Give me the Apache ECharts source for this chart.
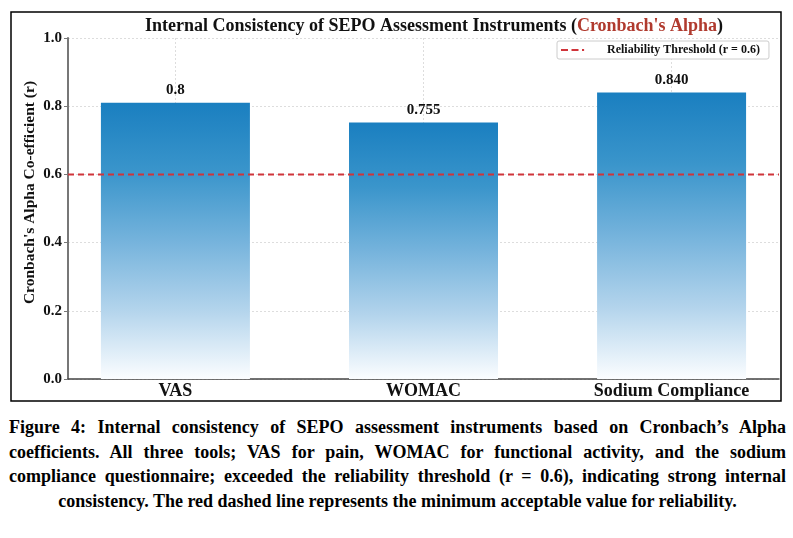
<!DOCTYPE html>
<html>
<head>
<meta charset="utf-8">
<script src="https://cdn.jsdelivr.net/npm/echarts@6/dist/echarts.min.js"></script>
<style>
    html, body { margin: 0; padding: 0; background: #fff; }
    #chart { position: absolute; left: 0; top: 0; width: 793px; height: 410px; }
    #caption {
        position: absolute; left: 9px; top: 415px; width: 777px;
        font-family: "Liberation Serif", "DejaVu Serif", serif;
        font-weight: bold; font-size: 18px; line-height: 24.5px;
        text-align: justify; text-align-last: center; color: #000;
    }
</style>
</head>
<body>
<div id="chart"></div>
<div id="caption">Figure 4: Internal consistency of SEPO assessment instruments based on Cronbach’s Alpha coefficients. All three tools; VAS for pain, WOMAC for functional activity, and the sodium compliance questionnaire; exceeded the reliability threshold (r = 0.6), indicating strong internal consistency. The red dashed line represents the minimum acceptable value for reliability.</div>
<script>
// data
var categories = ['VAS', 'WOMAC', 'Sodium Compliance'];
var alphaValues = [0.81, 0.752, 0.84];
var alphaLabels = ['0.8', '0.755', '0.840'];
var threshold = 0.6;
var xRange = [-0.433, 2.433];

var serif = '"Liberation Serif", "DejaVu Serif", serif';
var chart = echarts.init(document.getElementById('chart'));

var barData = alphaValues.map(function (v, i) { return [i, v]; });
var lineData = [[xRange[0], threshold], [xRange[1], threshold]];

var option = {
    animation: false,
    title: {
        text: '{b|Internal Consistency of SEPO Assessment Instruments (}{r|Cronbach\'s Alpha}{b|)}',
        left: 429,
        top: 12,
        textAlign: 'center',
        textStyle: {
            rich: {
                b: { fontFamily: serif, fontWeight: 'bold', fontSize: 18, color: '#111' },
                r: { fontFamily: serif, fontWeight: 'bold', fontSize: 18, color: '#b03a2e' }
            }
        }
    },
    graphic: [{
        type: 'rect',
        shape: { x: 11, y: 12, width: 770, height: 389 },
        style: { fill: 'none', stroke: '#000', lineWidth: 1.5 },
        silent: true
    }],
    legend: {
        left: 557,
        top: 41,
        padding: [3, 9, 3, 4],
        icon: 'path://M0,0h7v2h-7zM10.5,0h7v2h-7zM21,0h2v2h-2zM23.9,0h0.1v2h-0.1z',
        itemWidth: 24,
        itemHeight: 2,
        backgroundColor: '#fff',
        borderColor: '#ccc',
        borderWidth: 1,
        borderRadius: 2,
        data: ['Reliability Threshold (r = 0.6)'],
        textStyle: {
            fontFamily: serif, fontWeight: 'bold', fontSize: 12, color: '#111',
            padding: [0, 0, 0, 17]
        }
    },
    grid: { left: 68, right: 14, top: 38, height: 341, containLabel: false },
    xAxis: {
        type: 'value',
        min: xRange[0],
        max: xRange[1],
        axisLine: { show: true, lineStyle: { color: '#444', width: 1.5 } },
        axisTick: { show: false, customValues: [0, 1, 2] },
        axisLabel: {
            customValues: [0, 1, 2],
            margin: 3,
            fontFamily: serif, fontWeight: 'bold', fontSize: 18, color: '#111',
            formatter: function (v) { return categories[Math.round(v)]; }
        },
        splitLine: {
            show: true,
            customValues: [0, 1, 2],
            lineStyle: { color: '#ddd', type: [2, 2], width: 1 }
        }
    },
    yAxis: {
        type: 'value',
        min: 0,
        max: 1,
        interval: 0.2,
        name: 'Cronbach\'s Alpha Co-efficient (r)',
        nameLocation: 'middle',
        nameGap: 30,
        nameMoveOverlap: false,
        nameTextStyle: {
            fontFamily: serif, fontWeight: 'bold', fontSize: 15.5, color: '#111',
            padding: [0, 0, 0, 32]
        },
        axisLine: { show: true, onZero: false, lineStyle: { color: '#777', width: 2 } },
        axisTick: { show: true, length: 4, lineStyle: { color: '#777', width: 1 } },
        axisLabel: {
            margin: 6,
            fontFamily: serif, fontWeight: 'bold', fontSize: 15, color: '#111',
            formatter: function (v) { return v.toFixed(1); }
        },
        splitLine: { show: true, lineStyle: { color: '#ddd', type: [2, 2], width: 1 } }
    },
    series: [
        {
            name: 'Cronbach\'s Alpha',
            type: 'bar',
            barWidth: 149,
            data: barData,
            itemStyle: {
                color: {
                    type: 'linear', x: 0, y: 0, x2: 0, y2: 1,
                    colorStops: [
                        { offset: 0, color: '#1a7fc0' },
                        { offset: 0.25, color: '#3a95cb' },
                        { offset: 0.5, color: '#75b3dc' },
                        { offset: 0.75, color: '#b3d4ec' },
                        { offset: 1, color: '#fbfdff' }
                    ]
                }
            },
            label: {
                show: true,
                position: 'top',
                distance: 5,
                fontFamily: serif, fontWeight: 'bold', fontSize: 15, color: '#111',
                formatter: function (p) { return alphaLabels[p.dataIndex]; }
            },
            z: 2
        },
        {
            name: 'Reliability Threshold (r = 0.6)',
            type: 'line',
            symbol: 'none',
            data: lineData,
            lineStyle: { color: '#d0343a', width: 2, type: [6, 4] },
            itemStyle: { color: '#d0343a' },
            z: 5
        }
    ]
};

chart.setOption(option);
</script>
</body>
</html>
